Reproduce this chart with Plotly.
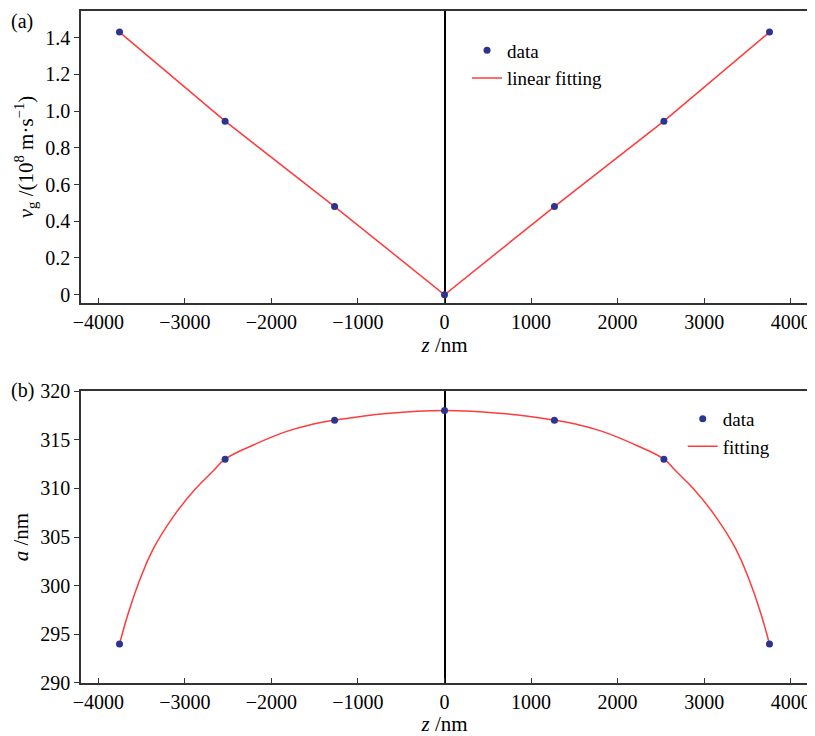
import plotly.graph_objects as go

# ---- data ----
z_data = [-3755, -2535, -1270, 0, 1270, 2535, 3755]
vg_data = [1.43, 0.945, 0.48, 0.0, 0.48, 0.945, 1.43]
a_data = [294.0, 313.0, 317.0, 318.0, 317.0, 313.0, 294.0]

# fitted curve of panel (b)
z_fit = [-3755, -3653, -3529, -3364, -3133, -2882, -2671, -2535, -2208, -1822, -1514, -1270,
         -666, 0, 666, 1270, 1514, 1822, 2208, 2535, 2671, 2882, 3133, 3364, 3529, 3653, 3755]
a_fit = [294.0, 297.2, 300.4, 303.8, 307.1, 309.9, 311.8, 313.0, 314.45, 315.85, 316.6, 317.0,
         317.7, 318.0, 317.7, 317.0, 316.6, 315.85, 314.45, 313.0, 311.8, 309.9, 307.1, 303.8,
         300.4, 297.2, 294.0]

x_ticks = [-4000, -3000, -2000, -1000, 0, 1000, 2000, 3000, 4000]
vg_ticks = [0, 0.2, 0.4, 0.6, 0.8, 1.0, 1.2, 1.4]
vg_ticktext = ["0", "0.2", "0.4", "0.6", "0.8", "1.0", "1.2", "1.4"]
a_ticks = [290, 295, 300, 305, 310, 315, 320]

FONT = "Liberation Serif"
NAVY = "#2B358F"
RED = "#FF3B3B"
AXC = "#333333"

fig = go.Figure()

fig.add_trace(go.Scatter(x=z_data, y=vg_data, mode="lines", name="linear fitting",
                         line=dict(color=RED, width=1.5), xaxis="x", yaxis="y",
                         legend="legend"))
fig.add_trace(go.Scatter(x=z_data, y=vg_data, mode="markers", name="data",
                         marker=dict(color=NAVY, size=7), xaxis="x", yaxis="y",
                         legend="legend"))
fig.add_trace(go.Scatter(x=z_fit, y=a_fit, mode="lines", name="fitting",
                         line=dict(color=RED, width=1.5, shape="spline", smoothing=1.3),
                         xaxis="x2", yaxis="y2", legend="legend2"))
fig.add_trace(go.Scatter(x=z_data, y=a_data, mode="markers", name="data",
                         marker=dict(color=NAVY, size=7), xaxis="x2", yaxis="y2",
                         legend="legend2"))

common_x = dict(range=[-4200, 4200], tickvals=x_ticks, ticks="inside", ticklen=5,
                tickwidth=1.2, tickcolor=AXC, showline=True, linecolor=AXC, linewidth=1.5,
                mirror=True, showgrid=False, zeroline=True, zerolinecolor="black",
                zerolinewidth=2, automargin=False,
                tickfont=dict(family=FONT, size=20, color="black"),
                title=dict(text="<i>z</i> /nm", font=dict(family=FONT, size=21, color="black"),
                           standoff=0))
common_y = dict(ticks="outside", ticklen=5, tickwidth=1.2, tickcolor=AXC, showline=True,
                linecolor=AXC, linewidth=1.5, mirror=True, showgrid=False, zeroline=False,
                automargin=False, tickfont=dict(family=FONT, size=20, color="black"))

fig.update_layout(
    width=807, height=728,
    margin=dict(l=73, r=7, t=3, b=53),
    paper_bgcolor="white", plot_bgcolor="white",
    font=dict(family=FONT, color="black"),
    xaxis=dict(domain=[0, 1], anchor="y", **common_x),
    yaxis=dict(domain=[0.5655, 1], anchor="x", range=[-0.045, 1.545],
               tickvals=vg_ticks, ticktext=vg_ticktext,
               title=dict(text="<i>v</i><sub>g</sub> /(10<sup>8</sup> m·s<sup>−1</sup>)",
                          font=dict(family=FONT, size=21, color="black"), standoff=6),
               **common_y),
    xaxis2=dict(domain=[0, 1], anchor="y2", **common_x),
    yaxis2=dict(domain=[0, 0.4345], anchor="x2", range=[290, 320], tickvals=a_ticks,
                title=dict(text="<i>a</i> /nm", font=dict(family=FONT, size=21, color="black"),
                           standoff=6),
                **common_y),
    legend=dict(x=0.531, y=0.9695, xanchor="left", yanchor="top", bgcolor="rgba(0,0,0,0)",
                font=dict(family=FONT, size=19, color="black"), tracegroupgap=0,
                traceorder="reversed", itemwidth=30),
    legend2=dict(x=0.8277, y=0.4214, xanchor="left", yanchor="top", bgcolor="rgba(0,0,0,0)",
                 font=dict(family=FONT, size=19, color="black"), tracegroupgap=0,
                 traceorder="reversed", itemwidth=30),
    annotations=[
        dict(text="(a)", x=-0.0985, y=1.0045, xref="paper", yref="paper", xanchor="left",
             yanchor="top", showarrow=False, font=dict(family=FONT, size=20, color="black")),
        dict(text="(b)", x=-0.0985, y=0.4554, xref="paper", yref="paper", xanchor="left",
             yanchor="top", showarrow=False, font=dict(family=FONT, size=20, color="black")),
    ],
)

fig.write_html("out.html")
